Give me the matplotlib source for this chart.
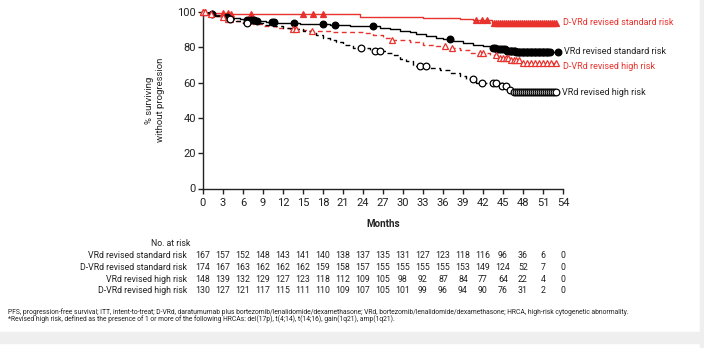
import numpy as np
import matplotlib.pyplot as plt
from matplotlib.transforms import blended_transform_factory

plt.rcParams['font.family'] = ['Roboto', 'DejaVu Sans']

RED = '#e8322d'
DARK = '#222222'

months = list(range(0, 55, 3))

# VRd revised standard risk
vrd_std_t = [0, 0.8, 1.5, 2.5, 3.5, 4.5, 5.5, 6.5, 8, 9.5, 11, 12.5, 14.5, 19, 22, 26.5, 28, 29.5,
             31, 32, 33.5, 35, 36, 37.5, 39, 40.5, 42, 43, 44, 45.5, 47]
vrd_std_s = [100, 99, 98.3, 97.5, 97, 96.5, 96, 95.5, 95, 94.5, 94, 93.5, 93, 92.5, 92, 91, 90.5, 89.5,
             88.5, 87.5, 86.5, 85.5, 84.5, 83.5, 82.5, 81.5, 80.5, 79.5, 79, 78, 77.5]
vrd_std_end = 53.2
vrd_std_cens = [1.3, 3.6, 6.6, 7.2, 7.6, 8.1, 10.3, 10.7, 13.7, 18.0, 19.8, 25.5, 37.0,
                43.5, 43.8, 44.1, 44.4, 44.7, 45.0, 45.3, 45.6, 45.8, 46.0, 46.2, 46.4, 46.6, 46.8,
                47.0, 47.2, 47.4, 47.6, 47.8, 48.0, 48.2, 48.4, 48.6, 48.8, 49.0, 49.2, 49.4, 49.6,
                49.8, 50.0, 50.2, 50.4, 50.6, 50.8, 51.0, 51.2, 51.4, 51.6, 51.8, 52.0, 53.2]

# D-VRd revised standard risk
dvrd_std_t = [0, 0.5, 2, 4, 23.5, 33, 38.5, 40.5, 43.3]
dvrd_std_s = [100, 99.6, 99.3, 99, 97.3, 96.6, 95.8, 95.2, 93.7]
dvrd_std_end = 53.0
dvrd_std_cens = [0, 0.3, 1.3, 3.0, 3.8, 4.2, 7.2, 15.0, 16.5, 18.0, 41.0, 41.8, 42.6,
                 43.6, 43.9, 44.2, 44.5, 44.8, 45.1, 45.4, 45.7, 46.0, 46.3, 46.6, 46.9, 47.2,
                 47.5, 47.8, 48.1, 48.4, 48.7, 49.0, 49.3, 49.6, 49.9, 50.2, 50.5, 50.8, 51.1,
                 51.4, 51.7, 52.0, 52.3, 52.6, 52.9]

# VRd revised high risk
vrd_hi_t = [0, 1, 2, 3, 4, 5, 6, 7.5, 9, 10.5, 12, 13.5, 15, 16, 17, 18, 19, 20, 21, 22.5, 25, 27.5,
            28.5, 29.5, 30.5, 31.5, 34, 35.5, 37, 38.5, 39.5, 41, 44.8, 45.8, 46.6]
vrd_hi_s = [100, 99, 98, 97, 96, 95, 94, 93.5, 92.5, 92, 91, 90.5, 89.5, 88.5, 87, 85.5, 84, 83, 81.5,
            79.5, 78, 77, 75.5, 73.5, 72, 69.5, 68.5, 67, 65.5, 63.5, 62, 59.5, 58, 56, 54.5]
vrd_hi_end = 53.0
vrd_hi_cens = [4.0, 6.6, 23.7, 25.8, 26.6, 32.6, 33.4, 40.5, 41.8, 43.5, 44.0, 44.9, 45.4, 46.0,
               46.6, 47.0, 47.3, 47.6, 47.9, 48.2, 48.5, 48.8, 49.1, 49.4, 49.7, 50.0, 50.3, 50.6,
               50.9, 51.2, 51.5, 51.8, 52.1, 52.4, 52.7, 53.0]

# D-VRd revised high risk
dvrd_hi_t = [0, 0.5, 1.5, 2.5, 3.5, 5, 6, 7.5, 9, 11, 13, 15, 16, 19, 24, 25.5, 27, 28, 31, 33, 35,
             36.5, 38.5, 40, 41, 43, 44.5, 46, 47.6]
dvrd_hi_s = [100, 99, 98, 97, 96, 95, 94, 93, 92, 91, 90.5, 90, 89, 88.5, 88, 87, 85.5, 84, 83, 81.5,
             80.5, 79.7, 78.5, 77, 76.5, 75.5, 74, 73, 71]
dvrd_hi_end = 53.0
dvrd_hi_cens = [0, 0.3, 1.2, 3.0, 3.8, 4.1, 13.5, 14.0, 16.3, 28.3, 36.3, 37.3, 41.5, 42.0, 44.0,
                44.6, 45.0, 45.4, 45.8, 46.2, 46.6, 47.0, 47.4, 48.0, 48.6, 49.2, 49.8, 50.4,
                51.0, 51.6, 52.2, 53.0]

risk_labels = ['VRd revised standard risk', 'D-VRd revised standard risk',
               'VRd revised high risk', 'D-VRd revised high risk']
risk_counts = [
    [167, 157, 152, 148, 143, 141, 140, 138, 137, 135, 131, 127, 123, 118, 116, 96, 36, 6, 0],
    [174, 167, 163, 162, 162, 162, 159, 158, 157, 155, 155, 155, 155, 153, 149, 124, 52, 7, 0],
    [148, 139, 132, 129, 127, 123, 118, 112, 109, 105, 98, 92, 87, 84, 77, 64, 22, 4, 0],
    [130, 127, 121, 117, 115, 111, 110, 109, 107, 105, 101, 99, 96, 94, 90, 76, 31, 2, 0],
]

curve_names = ['D-VRd revised standard risk', 'VRd revised standard risk',
               'D-VRd revised high risk', 'VRd revised high risk']


def surv_at(t, times, surv):
    i = np.searchsorted(times, t, side='right') - 1
    return np.asarray(surv)[np.clip(i, 0, len(surv) - 1)]


fig = plt.figure(figsize=(7.04, 3.48), dpi=100)
fig.patch.set_facecolor('white')
# light grey page strips
fig.add_artist(plt.Rectangle((0, 5 / 348), 1, 11 / 348, transform=fig.transFigure,
                             color='#efefef', zorder=0))
fig.add_artist(plt.Rectangle((700 / 704, 0), 4 / 704, 1, transform=fig.transFigure,
                             color='#efefef', zorder=0))

ax = fig.add_axes([203 / 704, 1 - 188.5 / 348, 360 / 704, 176.5 / 348])

curves = [
    (dvrd_std_t, dvrd_std_s, dvrd_std_end, dvrd_std_cens, RED, '-', '^', RED),
    (vrd_std_t, vrd_std_s, vrd_std_end, vrd_std_cens, 'black', '-', 'o', 'black'),
    (dvrd_hi_t, dvrd_hi_s, dvrd_hi_end, dvrd_hi_cens, RED, (0, (3.5, 2.5)), '^', 'white'),
    (vrd_hi_t, vrd_hi_s, vrd_hi_end, vrd_hi_cens, 'black', (0, (3.5, 2.5)), 'o', 'white'),
]
for t, s, end, cens, col, ls, mk, fc in curves:
    tt = list(t) + [end]
    ss = list(s) + [s[-1]]
    ax.step(tt, ss, where='post', color=col, lw=1.0, linestyle=ls, zorder=2)
    cy = surv_at(np.array(cens), t, s)
    ax.plot(cens, cy, linestyle='none', marker=mk, ms=4.8, mfc=fc, mec=col, mew=0.9,
            zorder=3, clip_on=False)

label_y = [93.8, 77.6, 69.3, 54.5]
label_x = [54.0, 54.2, 54.0, 53.8]
label_c = [RED, DARK, RED, DARK]
for name, x, y, c in zip(curve_names, label_x, label_y, label_c):
    ax.text(x, y, name, color=c, fontsize=6.5, ha='left', va='center')

ax.set_xlim(0, 54)
ax.set_ylim(0, 100)
ax.set_xticks(months)
ax.set_yticks(range(0, 101, 20))
ax.spines['top'].set_visible(False)
ax.spines['right'].set_visible(False)
for sp in ['left', 'bottom']:
    ax.spines[sp].set_linewidth(1.0)
    ax.spines[sp].set_color(DARK)
ax.tick_params(direction='out', length=3.6, width=1.0, colors=DARK, labelsize=8)
ax.tick_params(axis='x', pad=3)
ax.tick_params(axis='y', pad=1.5)
ax.set_xlabel('Months', fontsize=7, fontweight='semibold', color=DARK, labelpad=8)
ax.set_ylabel('% surviving\nwithout progression', fontsize=6.8, color=DARK, labelpad=9,
              linespacing=1.2)

# number at risk table
tr = blended_transform_factory(ax.transData, fig.transFigure)
fig.text(190 / 704, 1 - 243 / 348, 'No. at risk', fontsize=6.3, color=DARK, ha='right', va='center')
row_y = [255.5, 267.3, 279, 290.7]
for lab, counts, ypx in zip(risk_labels, risk_counts, row_y):
    fy = 1 - ypx / 348
    fig.text(187 / 704, fy, lab, fontsize=6.3, color=DARK, ha='right', va='center')
    for m, c in zip(months, counts):
        ax.text(m, fy, str(c), transform=tr, fontsize=6.3, color=DARK, ha='center', va='center',
                clip_on=False)

fig.text(8 / 704, 1 - 312 / 348,
         'PFS, progression-free survival; ITT, intent-to-treat; D-VRd, daratumumab plus '
         'bortezomib/lenalidomide/dexamethasone; VRd, bortezomib/lenalidomide/dexamethasone; '
         'HRCA, high-risk cytogenetic abnormality.',
         fontsize=4.85, color=DARK, ha='left', va='center')
fig.text(8 / 704, 1 - 319.5 / 348,
         '*Revised high risk, defined as the presence of 1 or more of the following HRCAs: '
         'del(17p), t(4;14), t(14;16), gain(1q21), amp(1q21).',
         fontsize=4.85, color=DARK, ha='left', va='center')

fig.savefig('out.png', dpi=100)
